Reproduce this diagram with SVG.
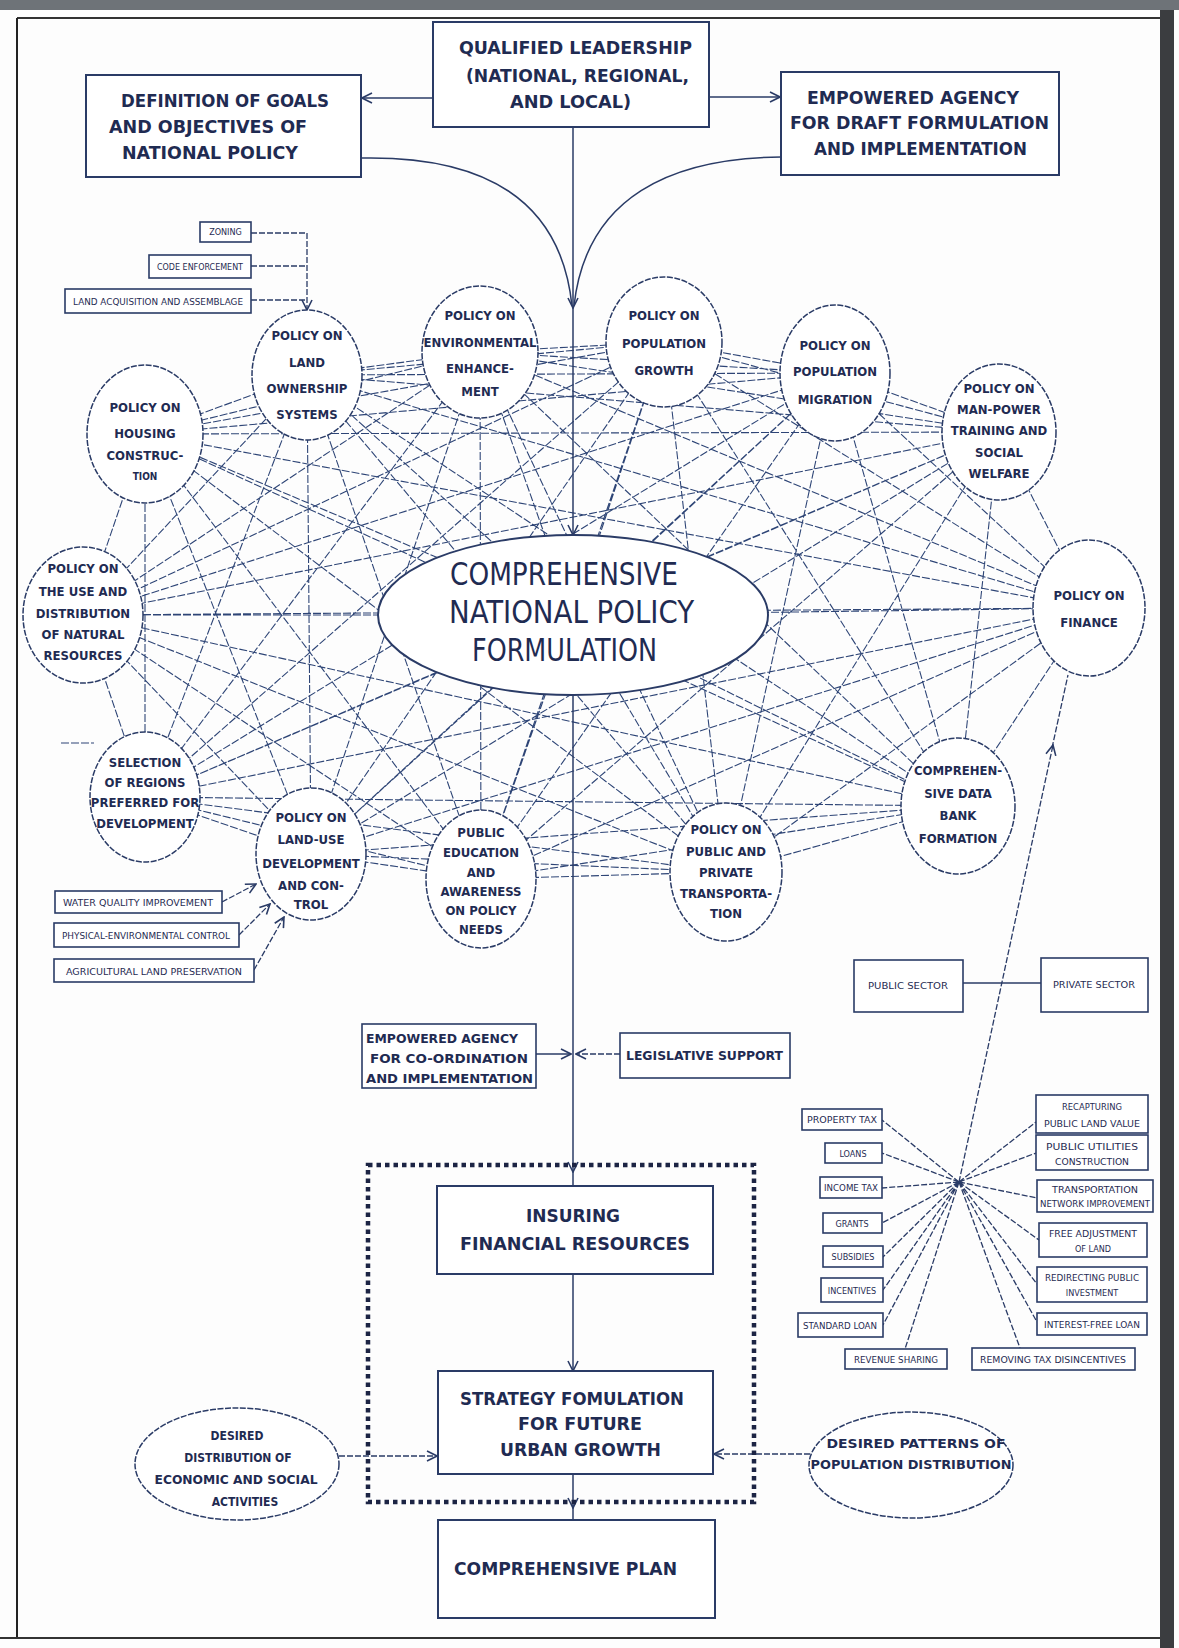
<svg xmlns="http://www.w3.org/2000/svg" width="1179" height="1648" viewBox="0 0 1179 1648">
<style>
  text { font-family: 'Liberation Sans Narrow', 'DejaVu Sans Condensed', 'Liberation Sans', sans-serif; fill: #1f2b52; font-weight: bold; }
  .box { fill: #fff; stroke: #2a3b66; stroke-width: 2; }
  .sbox { fill: #fff; stroke: #2a3b66; stroke-width: 1.6; }
  .pol { fill: #fff; stroke: #2a3b66; stroke-width: 1.5; stroke-dasharray: 6 1.5; }
  .web { fill: none; stroke: #2e4576; stroke-width: 1.1; stroke-dasharray: 8 2; }
  .ln { fill: none; stroke: #2a3b66; stroke-width: 1.5; }
  .dl { fill: none; stroke: #2a3b66; stroke-width: 1.3; stroke-dasharray: 6 2; }
  .big { font-size: 18px; }
  .mid { font-size: 17px; }
  .pt { font-size: 13px; }
  .sm { font-size: 9px; font-weight: normal; }
  .c { text-anchor: middle; }
</style>
<defs>
  <marker id="ah" viewBox="0 0 12 12" refX="11" refY="6" markerWidth="12" markerHeight="12" markerUnits="userSpaceOnUse" orient="auto">
    <path d="M1,1 L11,6 L1,11" fill="none" stroke="#2a3b66" stroke-width="1.6"/>
  </marker>
</defs>

<rect x="0" y="0" width="1179" height="1648" fill="#fdfdfd"/>

<!-- page frame of the printed sheet -->
<g id="page-frame">
  <rect x="0" y="0" width="1179" height="10" fill="#6e7378"/>
  <line x1="17" y1="18" x2="1160" y2="18" stroke="#333" stroke-width="2"/>
  <line x1="17" y1="18" x2="17" y2="1638" stroke="#222" stroke-width="2"/>
  <line x1="0" y1="1638" x2="1160" y2="1638" stroke="#333" stroke-width="2"/>
  <rect x="1160" y="10" width="14" height="1638" fill="#3b3d40"/>
</g>

<!-- connectors -->
<g id="connectors">
  <!-- policy interaction web (drawn under the policy circles) -->
  <path class="web" d="
    M307,375L480,352 M307,375L664,342 M307,375L835,373 M307,375L999,432 M307,375L145,434 M307,375L83,615 M307,375L1089,608 M307,375L145,797 M307,375L311,854 M307,375L481,879 M307,375L726,872 M307,375L958,806 M307,375L573,615
    M480,352L664,342 M480,352L835,373 M480,352L999,432 M480,352L145,434 M480,352L83,615 M480,352L1089,608 M480,352L145,797 M480,352L311,854 M480,352L481,879 M480,352L726,872 M480,352L958,806 M480,352L573,615
    M664,342L835,373 M664,342L999,432 M664,342L145,434 M664,342L83,615 M664,342L1089,608 M664,342L145,797 M664,342L311,854 M664,342L481,879 M664,342L726,872 M664,342L958,806 M664,342L573,615
    M835,373L999,432 M835,373L145,434 M835,373L83,615 M835,373L1089,608 M835,373L145,797 M835,373L311,854 M835,373L481,879 M835,373L726,872 M835,373L958,806 M835,373L573,615
    M999,432L145,434 M999,432L83,615 M999,432L1089,608 M999,432L145,797 M999,432L311,854 M999,432L481,879 M999,432L726,872 M999,432L958,806 M999,432L573,615
    M145,434L83,615 M145,434L1089,608 M145,434L145,797 M145,434L311,854 M145,434L481,879 M145,434L726,872 M145,434L958,806 M145,434L573,615
    M83,615L1089,608 M83,615L145,797 M83,615L311,854 M83,615L481,879 M83,615L726,872 M83,615L958,806 M83,615L573,615
    M1089,608L145,797 M1089,608L311,854 M1089,608L481,879 M1089,608L726,872 M1089,608L958,806 M1089,608L573,615
    M145,797L311,854 M145,797L481,879 M145,797L726,872 M145,797L958,806 M145,797L573,615
    M311,854L481,879 M311,854L726,872 M311,854L958,806 M311,854L573,615
    M481,879L726,872 M481,879L958,806 M481,879L573,615
    M726,872L958,806 M726,872L573,615
    M958,806L573,615
    M61,743L94,743"/>

  <!-- leadership outputs -->
  <line class="ln" x1="433" y1="98" x2="362" y2="98" marker-end="url(#ah)"/>
  <line class="ln" x1="709" y1="97" x2="780" y2="97" marker-end="url(#ah)"/>
  <path class="ln" d="M362,158 C470,156 560,190 572,306"/>
  <path class="ln" d="M781,157 C672,158 586,196 574,306"/>

  <!-- main spine -->
  <line class="ln" x1="573" y1="127" x2="573" y2="308" marker-end="url(#ah)"/>
  <line class="ln" x1="573" y1="308" x2="573" y2="535" marker-end="url(#ah)"/>
  <line class="ln" x1="573" y1="695" x2="573" y2="1172" marker-end="url(#ah)"/>
  <line class="ln" x1="573" y1="1170" x2="573" y2="1186"/>
  <line class="ln" x1="573" y1="1274" x2="573" y2="1371" marker-end="url(#ah)"/>
  <line class="ln" x1="573" y1="1474" x2="573" y2="1508" marker-end="url(#ah)"/>
  <line class="ln" x1="573" y1="1505" x2="573" y2="1520"/>

  <!-- co-ordination and legislative inputs -->
  <line class="ln" x1="536" y1="1054" x2="571" y2="1054" marker-end="url(#ah)"/>
  <line class="dl" x1="620" y1="1054" x2="576" y2="1054" marker-end="url(#ah)"/>

  <!-- land ownership instruments -->
  <path class="dl" d="M251,233 H307 V310" marker-end="url(#ah)"/>
  <line class="dl" x1="251" y1="266" x2="307" y2="266"/>
  <line class="dl" x1="251" y1="300" x2="307" y2="300"/>

  <!-- land-use instruments -->
  <line class="dl" x1="222" y1="902" x2="256" y2="884" marker-end="url(#ah)"/>
  <line class="dl" x1="239" y1="935" x2="270" y2="904" marker-end="url(#ah)"/>
  <line class="dl" x1="254" y1="970" x2="284" y2="917" marker-end="url(#ah)"/>

  <!-- finance instruments fan -->
  <path class="dl" d="
    M959,1182L882,1120 M959,1182L882,1153 M959,1182L882,1188 M959,1182L882,1223 M959,1182L883,1257 M959,1182L883,1290 M959,1182L883,1325 M959,1182L905,1349
    M959,1182L1020,1348 M959,1182L1037,1322 M959,1182L1037,1284 M959,1182L1039,1240 M959,1182L1037,1198 M959,1182L1036,1153 M959,1182L1036,1122"/>
  <line class="dl" x1="959" y1="1182" x2="1053" y2="745" marker-end="url(#ah)"/>
  <line class="dl" x1="1052" y1="748" x2="1068" y2="675"/>
  <line class="ln" x1="963" y1="983" x2="1041" y2="983"/>

  <!-- desired patterns into strategy -->
  <line class="dl" x1="339" y1="1456" x2="437" y2="1456" marker-end="url(#ah)"/>
  <line class="dl" x1="810" y1="1454" x2="714" y2="1454" marker-end="url(#ah)"/>
</g>

<!-- top boxes -->
<g id="qualified-leadership">
  <rect class="box" x="433" y="22" width="276" height="105"/>
  <text class="big" x="459" y="54" textLength="233" lengthAdjust="spacingAndGlyphs">QUALIFIED LEADERSHIP</text>
  <text class="big" x="466" y="82" textLength="223" lengthAdjust="spacingAndGlyphs">(NATIONAL, REGIONAL,</text>
  <text class="big" x="510" y="108" textLength="121" lengthAdjust="spacingAndGlyphs">AND LOCAL)</text>
</g>
<g id="goals-objectives">
  <rect class="box" x="86" y="75" width="275" height="102"/>
  <text class="big" x="121" y="107" textLength="208" lengthAdjust="spacingAndGlyphs">DEFINITION OF GOALS</text>
  <text class="big" x="109" y="133" textLength="198" lengthAdjust="spacingAndGlyphs">AND OBJECTIVES OF</text>
  <text class="big" x="122" y="159" textLength="176" lengthAdjust="spacingAndGlyphs">NATIONAL POLICY</text>
</g>
<g id="draft-agency">
  <rect class="box" x="781" y="72" width="278" height="103"/>
  <text class="big" x="807" y="104" textLength="212" lengthAdjust="spacingAndGlyphs">EMPOWERED AGENCY</text>
  <text class="big" x="790" y="129" textLength="259" lengthAdjust="spacingAndGlyphs">FOR DRAFT FORMULATION</text>
  <text class="big" x="814" y="155" textLength="213" lengthAdjust="spacingAndGlyphs">AND IMPLEMENTATION</text>
</g>

<!-- land ownership instruments -->
<g id="zoning">
  <rect class="sbox" x="200" y="222" width="51" height="20"/>
  <text class="sm c" x="225.5" y="235">ZONING</text>
</g>
<g id="code-enforcement">
  <rect class="sbox" x="149" y="255" width="102" height="23"/>
  <text class="sm c" x="200" y="270" textLength="86" lengthAdjust="spacingAndGlyphs">CODE ENFORCEMENT</text>
</g>
<g id="land-acquisition">
  <rect class="sbox" x="65" y="289" width="186" height="24"/>
  <text class="sm c" x="158" y="305" textLength="170" lengthAdjust="spacingAndGlyphs">LAND ACQUISITION AND ASSEMBLAGE</text>
</g>

<!-- policy circles -->
<g id="policy-land-ownership">
  <ellipse class="pol" cx="307" cy="375" rx="55" ry="65"/>
  <text class="pt c" x="307" y="340">POLICY ON</text>
  <text class="pt c" x="307" y="367">LAND</text>
  <text class="pt c" x="307" y="393">OWNERSHIP</text>
  <text class="pt c" x="307" y="419">SYSTEMS</text>
</g>
<g id="policy-environment">
  <ellipse class="pol" cx="480" cy="352" rx="58" ry="66"/>
  <text class="pt c" x="480" y="320">POLICY ON</text>
  <text class="pt c" x="480" y="347">ENVIRONMENTAL</text>
  <text class="pt c" x="480" y="373">ENHANCE-</text>
  <text class="pt c" x="480" y="396">MENT</text>
</g>
<g id="policy-population-growth">
  <ellipse class="pol" cx="664" cy="342" rx="58" ry="65"/>
  <text class="pt c" x="664" y="320">POLICY ON</text>
  <text class="pt c" x="664" y="348">POPULATION</text>
  <text class="pt c" x="664" y="375">GROWTH</text>
</g>
<g id="policy-population-migration">
  <ellipse class="pol" cx="835" cy="373" rx="55" ry="68"/>
  <text class="pt c" x="835" y="350">POLICY ON</text>
  <text class="pt c" x="835" y="376">POPULATION</text>
  <text class="pt c" x="835" y="404">MIGRATION</text>
</g>
<g id="policy-manpower">
  <ellipse class="pol" cx="999" cy="432" rx="57" ry="68"/>
  <text class="pt c" x="999" y="393">POLICY ON</text>
  <text class="pt c" x="999" y="414">MAN-POWER</text>
  <text class="pt c" x="999" y="435">TRAINING AND</text>
  <text class="pt c" x="999" y="457">SOCIAL</text>
  <text class="pt c" x="999" y="478">WELFARE</text>
</g>
<g id="policy-housing">
  <ellipse class="pol" cx="145" cy="434" rx="58" ry="69"/>
  <text class="pt c" x="145" y="412">POLICY ON</text>
  <text class="pt c" x="145" y="438">HOUSING</text>
  <text class="pt c" x="145" y="460">CONSTRUC-</text>
  <text class="pt c" x="145" y="480" style="font-size:10px">TION</text>
</g>
<g id="policy-natural-resources">
  <ellipse class="pol" cx="83" cy="615" rx="60" ry="68"/>
  <text class="pt c" x="83" y="573">POLICY ON</text>
  <text class="pt c" x="83" y="596">THE USE AND</text>
  <text class="pt c" x="83" y="618">DISTRIBUTION</text>
  <text class="pt c" x="83" y="639">OF NATURAL</text>
  <text class="pt c" x="83" y="660">RESOURCES</text>
</g>
<g id="policy-finance">
  <ellipse class="pol" cx="1089" cy="608" rx="56" ry="68"/>
  <text class="pt c" x="1089" y="600">POLICY ON</text>
  <text class="pt c" x="1089" y="627">FINANCE</text>
</g>
<g id="regions-selection">
  <ellipse class="pol" cx="145" cy="797" rx="55" ry="65"/>
  <text class="pt c" x="145" y="767">SELECTION</text>
  <text class="pt c" x="145" y="787">OF REGIONS</text>
  <text class="pt c" x="145" y="807">PREFERRED FOR</text>
  <text class="pt c" x="145" y="828">DEVELOPMENT</text>
</g>
<g id="policy-land-use">
  <ellipse class="pol" cx="311" cy="854" rx="55" ry="66"/>
  <text class="pt c" x="311" y="822">POLICY ON</text>
  <text class="pt c" x="311" y="844">LAND-USE</text>
  <text class="pt c" x="311" y="868">DEVELOPMENT</text>
  <text class="pt c" x="311" y="890">AND CON-</text>
  <text class="pt c" x="311" y="909">TROL</text>
</g>
<g id="public-education">
  <ellipse class="pol" cx="481" cy="879" rx="55" ry="69"/>
  <text class="pt c" x="481" y="837">PUBLIC</text>
  <text class="pt c" x="481" y="857">EDUCATION</text>
  <text class="pt c" x="481" y="877">AND</text>
  <text class="pt c" x="481" y="896">AWARENESS</text>
  <text class="pt c" x="481" y="915">ON POLICY</text>
  <text class="pt c" x="481" y="934">NEEDS</text>
</g>
<g id="policy-transportation">
  <ellipse class="pol" cx="726" cy="872" rx="56" ry="69"/>
  <text class="pt c" x="726" y="834">POLICY ON</text>
  <text class="pt c" x="726" y="856">PUBLIC AND</text>
  <text class="pt c" x="726" y="877">PRIVATE</text>
  <text class="pt c" x="726" y="898">TRANSPORTA-</text>
  <text class="pt c" x="726" y="918">TION</text>
</g>
<g id="data-bank">
  <ellipse class="pol" cx="958" cy="806" rx="57" ry="68"/>
  <text class="pt c" x="958" y="775">COMPREHEN-</text>
  <text class="pt c" x="958" y="798">SIVE DATA</text>
  <text class="pt c" x="958" y="820">BANK</text>
  <text class="pt c" x="958" y="843">FORMATION</text>
</g>

<!-- central formulation -->
<g id="national-policy">
  <ellipse cx="573" cy="615" rx="195" ry="80" fill="#fff" stroke="#2a3b66" stroke-width="2"/>
  <text x="450" y="585" style="font-size:32px;font-weight:normal" textLength="228" lengthAdjust="spacingAndGlyphs">COMPREHENSIVE</text>
  <text x="449" y="623" style="font-size:32px;font-weight:normal" textLength="245" lengthAdjust="spacingAndGlyphs">NATIONAL POLICY</text>
  <text x="472" y="661" style="font-size:32px;font-weight:normal" textLength="185" lengthAdjust="spacingAndGlyphs">FORMULATION</text>
</g>

<!-- land-use instruments -->
<g id="water-quality">
  <rect class="sbox" x="55" y="891" width="167" height="22"/>
  <text class="sm c" x="138" y="906" textLength="150" lengthAdjust="spacingAndGlyphs">WATER QUALITY IMPROVEMENT</text>
</g>
<g id="physical-environmental">
  <rect class="sbox" x="54" y="923" width="185" height="24"/>
  <text class="sm c" x="146" y="939" textLength="168" lengthAdjust="spacingAndGlyphs">PHYSICAL-ENVIRONMENTAL CONTROL</text>
</g>
<g id="agricultural-land">
  <rect class="sbox" x="54" y="959" width="200" height="23"/>
  <text class="sm c" x="154" y="975" textLength="176" lengthAdjust="spacingAndGlyphs">AGRICULTURAL LAND PRESERVATION</text>
</g>

<!-- sectors -->
<g id="public-sector">
  <rect class="sbox" x="854" y="960" width="109" height="52"/>
  <text class="sm c" x="908" y="989" textLength="80" lengthAdjust="spacingAndGlyphs">PUBLIC SECTOR</text>
</g>
<g id="private-sector">
  <rect class="sbox" x="1041" y="958" width="107" height="54"/>
  <text class="sm c" x="1094" y="988" textLength="82" lengthAdjust="spacingAndGlyphs">PRIVATE SECTOR</text>
</g>

<!-- co-ordination -->
<g id="coordination-agency">
  <rect class="sbox" x="362" y="1024" width="174" height="64"/>
  <text class="mid" x="366" y="1043" style="font-size:13px" textLength="152" lengthAdjust="spacingAndGlyphs">EMPOWERED AGENCY</text>
  <text class="mid" x="370" y="1063" style="font-size:13px" textLength="158" lengthAdjust="spacingAndGlyphs">FOR CO-ORDINATION</text>
  <text class="mid" x="366" y="1083" style="font-size:13px" textLength="167" lengthAdjust="spacingAndGlyphs">AND IMPLEMENTATION</text>
</g>
<g id="legislative-support">
  <rect class="sbox" x="620" y="1033" width="170" height="45"/>
  <text x="626" y="1060" style="font-size:13px" textLength="157" lengthAdjust="spacingAndGlyphs">LEGISLATIVE SUPPORT</text>
</g>

<!-- finance instruments -->
<g id="property-tax"><rect class="sbox" x="802" y="1109" width="80" height="21"/><text class="sm c" x="842" y="1123" textLength="70" lengthAdjust="spacingAndGlyphs">PROPERTY TAX</text></g>
<g id="loans"><rect class="sbox" x="825" y="1143" width="57" height="20"/><text class="sm c" x="853" y="1157">LOANS</text></g>
<g id="income-tax"><rect class="sbox" x="820" y="1177" width="62" height="21"/><text class="sm c" x="851" y="1191" textLength="54" lengthAdjust="spacingAndGlyphs">INCOME TAX</text></g>
<g id="grants"><rect class="sbox" x="823" y="1213" width="59" height="20"/><text class="sm c" x="852" y="1227">GRANTS</text></g>
<g id="subsidies"><rect class="sbox" x="823" y="1246" width="60" height="21"/><text class="sm c" x="853" y="1260">SUBSIDIES</text></g>
<g id="incentives"><rect class="sbox" x="821" y="1278" width="62" height="24"/><text class="sm c" x="852" y="1294">INCENTIVES</text></g>
<g id="standard-loan"><rect class="sbox" x="798" y="1313" width="85" height="24"/><text class="sm c" x="840" y="1329" textLength="74" lengthAdjust="spacingAndGlyphs">STANDARD LOAN</text></g>
<g id="revenue-sharing"><rect class="sbox" x="845" y="1349" width="102" height="20"/><text class="sm c" x="896" y="1363" textLength="84" lengthAdjust="spacingAndGlyphs">REVENUE SHARING</text></g>
<g id="removing-disincentives"><rect class="sbox" x="972" y="1348" width="163" height="22"/><text class="sm c" x="1053" y="1363" textLength="146" lengthAdjust="spacingAndGlyphs">REMOVING TAX DISINCENTIVES</text></g>
<g id="recapturing-land-value"><rect class="sbox" x="1036" y="1095" width="112" height="38"/><text class="sm c" x="1092" y="1110" textLength="60" lengthAdjust="spacingAndGlyphs">RECAPTURING</text><text class="sm c" x="1092" y="1127" textLength="96" lengthAdjust="spacingAndGlyphs">PUBLIC LAND VALUE</text></g>
<g id="utilities-construction"><rect class="sbox" x="1036" y="1135" width="112" height="35"/><text class="sm c" x="1092" y="1150" textLength="92" lengthAdjust="spacingAndGlyphs">PUBLIC UTILITIES</text><text class="sm c" x="1092" y="1165" textLength="74" lengthAdjust="spacingAndGlyphs">CONSTRUCTION</text></g>
<g id="transport-network"><rect class="sbox" x="1037" y="1180" width="116" height="32"/><text class="sm c" x="1095" y="1193" textLength="86" lengthAdjust="spacingAndGlyphs">TRANSPORTATION</text><text class="sm c" x="1095" y="1207" textLength="110" lengthAdjust="spacingAndGlyphs">NETWORK IMPROVEMENT</text></g>
<g id="land-adjustment"><rect class="sbox" x="1039" y="1223" width="108" height="34"/><text class="sm c" x="1093" y="1237" textLength="88" lengthAdjust="spacingAndGlyphs">FREE ADJUSTMENT</text><text class="sm c" x="1093" y="1252">OF LAND</text></g>
<g id="redirecting-investment"><rect class="sbox" x="1037" y="1267" width="110" height="35"/><text class="sm c" x="1092" y="1281" textLength="94" lengthAdjust="spacingAndGlyphs">REDIRECTING PUBLIC</text><text class="sm c" x="1092" y="1296">INVESTMENT</text></g>
<g id="interest-free-loan"><rect class="sbox" x="1037" y="1313" width="110" height="22"/><text class="sm c" x="1092" y="1328" textLength="96" lengthAdjust="spacingAndGlyphs">INTEREST-FREE LOAN</text></g>

<!-- strategy block -->
<g id="strategy-frame">
  <rect x="368" y="1165" width="386" height="337" fill="none" stroke="#1c2444" stroke-width="4.5" stroke-dasharray="4.5 4"/>
</g>
<g id="financial-resources">
  <rect class="box" x="437" y="1186" width="276" height="88"/>
  <text class="mid" x="526" y="1222" textLength="94" lengthAdjust="spacingAndGlyphs">INSURING</text>
  <text class="mid" x="460" y="1250" textLength="230" lengthAdjust="spacingAndGlyphs">FINANCIAL RESOURCES</text>
</g>
<g id="strategy-formulation">
  <rect class="box" x="438" y="1371" width="275" height="103"/>
  <text class="mid" x="460" y="1405" textLength="224" lengthAdjust="spacingAndGlyphs">STRATEGY FOMULATION</text>
  <text class="mid" x="518" y="1430" textLength="124" lengthAdjust="spacingAndGlyphs">FOR FUTURE</text>
  <text class="mid" x="500" y="1456" textLength="161" lengthAdjust="spacingAndGlyphs">URBAN GROWTH</text>
</g>
<g id="economic-distribution">
  <ellipse class="pol" cx="237" cy="1464" rx="102" ry="56"/>
  <text class="pt c" x="237" y="1440" style="font-size:12px">DESIRED</text>
  <text class="pt c" x="238" y="1462" style="font-size:12px">DISTRIBUTION OF</text>
  <text class="pt c" x="236" y="1484" style="font-size:12px" textLength="163" lengthAdjust="spacingAndGlyphs">ECONOMIC AND SOCIAL</text>
  <text class="pt c" x="245" y="1506" style="font-size:12px">ACTIVITIES</text>
</g>
<g id="population-patterns">
  <ellipse class="pol" cx="911" cy="1465" rx="102" ry="53"/>
  <text class="pt c" x="916" y="1448" textLength="179" lengthAdjust="spacingAndGlyphs">DESIRED PATTERNS OF</text>
  <text class="pt c" x="911" y="1469" textLength="201" lengthAdjust="spacingAndGlyphs">POPULATION DISTRIBUTION</text>
</g>
<g id="comprehensive-plan">
  <rect class="box" x="438" y="1520" width="277" height="98"/>
  <text class="mid" x="454" y="1575" textLength="223" lengthAdjust="spacingAndGlyphs">COMPREHENSIVE PLAN</text>
</g>
</svg>
